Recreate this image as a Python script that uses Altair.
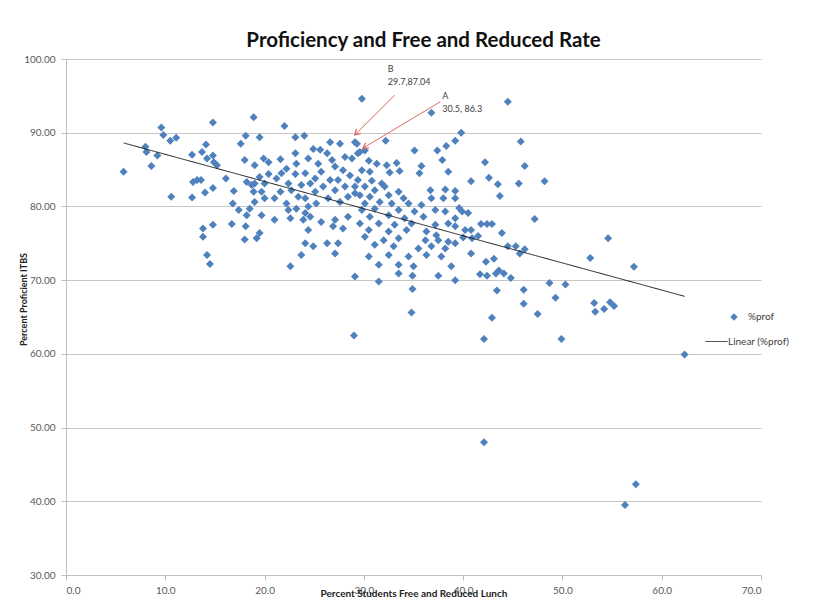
import altair as alt
import pandas as pd

# ---- data ----
x_frl = [
    5.8, 8.0, 8.1, 8.6, 9.2, 9.6, 9.8, 10.5, 11.1, 10.6, 12.7, 12.7, 12.8, 13.2, 13.6, 14.0,
    14.1, 13.7, 14.2, 14.8, 14.8, 14.9, 15.2, 14.8, 16.1, 16.9, 16.8, 17.4, 18.2, 18.0, 17.6,
    18.1, 18.9, 19.0, 18.7, 18.9, 18.5, 18.2, 16.7, 18.1, 14.8, 13.8, 13.8, 18.0, 19.2, 14.2, 14.5,
    22.0, 19.5, 23.1, 24.0, 29.1, 21.6, 19.9, 20.4, 23.1, 24.9, 25.6, 26.6, 27.6, 26.3, 26.8,
    23.2, 24.4, 25.4, 28.1, 28.8, 29.4, 27.1, 27.9, 25.7, 24.1, 22.2, 21.7, 20.4, 19.5, 21.2,
    23.1, 25.1, 26.6, 27.4, 28.6, 29.4, 19.0, 20.0, 22.4, 23.7, 24.6, 25.9, 28.1, 29.1, 19.7,
    21.6, 22.7, 25.1, 27.1, 20.0, 21.0, 23.4, 24.1, 26.4, 28.4, 29.6, 19.0, 22.2, 25.2, 27.6,
    22.4, 23.2, 24.1, 24.4, 19.7, 21.0, 22.6, 23.9, 24.6, 25.7, 27.1, 28.4, 26.9, 27.9, 24.4,
    19.5, 24.1, 27.4, 27.1, 23.7, 22.6, 29.1, 24.9, 26.3, 29.8,
    36.8, 39.8, 32.2, 29.3, 29.6, 30.1, 35.1, 37.4, 38.3, 39.2, 37.9, 30.5, 31.3, 32.3, 33.3,
    35.8, 29.8, 30.6, 32.6, 33.6, 35.6, 38.5, 30.8, 31.8, 30.1, 31.1, 32.1, 33.5, 36.7, 38.2,
    39.2, 29.1, 30.6, 32.5, 34.0, 36.8, 38.0, 30.1, 31.6, 32.8, 34.5, 35.8, 29.8, 31.1, 33.5,
    35.1, 37.2, 38.2, 30.6, 32.5, 34.1, 36.0, 39.2, 29.6, 31.5, 33.1, 34.8, 37.2, 38.5, 30.5,
    32.5, 34.3, 36.3, 37.3, 30.1, 32.0, 33.5, 36.2, 37.5, 38.5, 31.1, 33.0, 35.5, 36.8, 38.2,
    30.5, 32.5, 34.5, 36.3, 37.8, 31.5, 33.5, 35.0, 38.8,
    31.5, 33.5, 34.9, 37.5, 34.9, 34.8, 29.0,
    44.5, 45.8, 42.2, 46.2, 40.8, 42.6, 43.5, 45.6, 48.2, 43.7, 39.2, 39.6, 39.9, 40.5, 47.2,
    39.2, 40.2, 40.8, 41.8, 42.4, 42.9, 43.9, 40.0, 40.9, 41.5, 39.2, 44.5, 45.3, 46.2, 45.7,
    40.8, 42.3, 43.1, 52.8, 54.6, 57.2, 41.7, 42.4, 43.3, 43.6, 44.1, 44.8, 39.2, 43.4, 46.1,
    48.7, 50.3, 49.3, 46.1, 42.9, 47.5, 53.2, 53.3, 54.2, 54.8, 55.2, 42.1, 49.9, 62.3, 42.1,
    57.4, 56.3,
]
y_prof = [
    84.7, 88.1, 87.4, 85.5, 86.9, 90.7, 89.7, 88.9, 89.3, 81.3, 87.0, 81.2, 83.3, 83.6, 83.6, 81.9,
    88.4, 87.4, 86.5, 86.9, 91.4, 86.0, 85.6, 82.5, 83.8, 82.1, 80.4, 79.5, 83.3, 86.3, 88.5,
    89.6, 92.1, 85.6, 82.9, 82.0, 79.7, 78.8, 77.6, 77.3, 77.5, 77.0, 75.9, 75.5, 75.7, 73.4, 72.2,
    90.9, 89.4, 89.4, 89.6, 88.7, 86.4, 86.5, 86.0, 87.2, 87.8, 87.7, 88.7, 88.5, 87.2, 86.3,
    85.8, 86.5, 85.8, 86.7, 86.5, 87.2, 85.4, 84.9, 84.7, 84.5, 85.1, 84.5, 84.4, 84.0, 83.8,
    84.4, 83.8, 83.6, 83.6, 84.2, 83.6, 83.1, 83.1, 83.1, 82.9, 83.1, 82.7, 82.7, 82.7, 82.0,
    82.0, 82.2, 82.0, 82.2, 81.1, 81.1, 81.3, 81.1, 81.1, 81.3, 81.5, 80.6, 80.4, 80.4, 80.6,
    79.5, 79.7, 79.1, 80.0, 78.8, 78.2, 78.4, 78.2, 78.6, 77.9, 78.2, 78.6, 77.3, 77.0, 76.8,
    76.4, 75.0, 75.0, 73.6, 73.4, 71.9, 70.5, 74.6, 75.0, 94.6,
    92.7, 90.0, 88.9, 88.5, 87.4, 87.6, 87.6, 87.6, 88.2, 88.9, 86.3, 86.2, 85.8, 85.6, 85.9,
    85.5, 84.9, 84.7, 84.6, 84.8, 84.5, 84.7, 83.5, 83.1, 82.7, 82.2, 82.7, 82.0, 82.2, 82.3,
    82.1, 81.8, 81.3, 81.5, 81.1, 81.1, 81.1, 80.4, 80.6, 80.4, 80.4, 80.2, 79.5, 79.7, 79.5,
    79.3, 79.5, 79.3, 78.6, 78.8, 78.4, 78.6, 78.4, 77.7, 77.7, 77.5, 77.7, 77.5, 77.7, 76.8,
    76.6, 76.8, 76.6, 76.1, 75.9, 75.4, 75.7, 75.4, 75.4, 75.2, 74.8, 74.6, 74.3, 74.6, 74.3,
    73.2, 73.4, 73.2, 73.4, 73.2, 72.1, 72.1, 71.9, 71.9,
    69.8, 70.9, 70.6, 70.6, 68.8, 65.6, 62.5,
    94.2, 88.8, 86.0, 85.5, 83.4, 83.9, 83.0, 83.1, 83.4, 81.4, 81.1, 79.8, 79.3, 79.1, 78.3,
    77.3, 76.8, 76.8, 77.6, 77.6, 77.6, 76.4, 75.8, 75.7, 76.0, 75.0, 74.6, 74.6, 74.2, 73.6,
    73.6, 72.5, 72.9, 73.0, 75.7, 71.8, 70.8, 70.6, 70.9, 71.3, 70.9, 70.3, 70.0, 68.6, 68.7,
    69.6, 69.4, 67.6, 66.8, 64.9, 65.4, 66.9, 65.7, 66.1, 67.0, 66.5, 62.0, 62.0, 59.9, 48.0,
    42.3, 39.5,
]

chart_title = "Proficiency and Free and Reduced Rate"
x_title = "Percent Students Free and Reduced Lunch"
y_title = "Percent Proficient ITBS"
x_ticks = [0, 10, 20, 30, 40, 50, 60, 70]
y_ticks = [30, 40, 50, 60, 70, 80, 90, 100]
series_points = "%prof"
series_trend = "Linear (%prof)"

note_text = ["B", "29.7,87.04", "A", "30.5, 86.3"]
note_x = [32.4, 32.4, 37.9, 37.9]
note_y = [98.3, 96.5, 94.6, 92.8]

arrowB_x = [33.1, 29.1]
arrowB_y = [95.1, 89.7]
arrowA_x = [37.7, 29.9]
arrowA_y = [94.2, 87.9]

# ---- tables ----
df = pd.DataFrame({"frl": x_frl, "prof": y_prof})
notes = pd.DataFrame({"t": note_text, "x": note_x, "y": note_y})
arrows = pd.DataFrame({
    "x": [arrowB_x[0], arrowA_x[0]], "y": [arrowB_y[0], arrowA_y[0]],
    "x2": [arrowB_x[1], arrowA_x[1]], "y2": [arrowB_y[1], arrowA_y[1]],
})
headB = pd.DataFrame({"x": [arrowB_x[1]], "y": [arrowB_y[1]]})
headA = pd.DataFrame({"x": [arrowA_x[1]], "y": [arrowA_y[1]]})

FONT = "Lato"
LBL = "#595959"

xscale = alt.Scale(domain=[0, 70], nice=False, zero=False)
yscale = alt.Scale(domain=[30, 100], nice=False, zero=False)

x_enc = alt.X(
    "frl:Q", scale=xscale,
    axis=alt.Axis(
        values=x_ticks, format=".1f", title=x_title, grid=False,
        domainColor="#bfbfbf", tickColor="#bfbfbf", tickSize=5, labelPadding=5,
        labelFont=FONT, labelFontSize=10, labelColor=LBL,
        titleFont=FONT, titleFontSize=10, titleFontWeight="bold", titleColor="#222",
        titleY=21, titleBaseline="alphabetic",
    ),
)
y_enc = alt.Y(
    "prof:Q", scale=yscale,
    axis=alt.Axis(
        values=y_ticks, format=".2f", title=y_title, grid=True,
        gridColor="#c6c6c6", gridWidth=1.2,
        domainColor="#bfbfbf", tickColor="#bfbfbf", tickSize=5, labelPadding=6,
        labelFont=FONT, labelFontSize=10, labelColor=LBL,
        titleFont=FONT, titleFontSize=9, titleFontWeight="bold", titleColor="#222",
        titleX=-40, titleY=240, titleAngle=-90, titleBaseline="alphabetic",
    ),
)

points = (
    alt.Chart(df)
    .transform_calculate(series=f"'{series_points}'")
    .mark_point(filled=True, size=64, color="#4F81BD", opacity=1, strokeWidth=0)
    .encode(
        x=x_enc, y=y_enc,
        shape=alt.Shape(
            "series:N", scale=alt.Scale(range=["diamond"]),
            legend=alt.Legend(
                orient="none", legendX=663, legendY=253, title=None, padding=0,
                symbolSize=56, symbolFillColor="#4F81BD", symbolStrokeWidth=0,
                labelOffset=9, labelFont=FONT, labelFontSize=10, labelColor="#404040",
            ),
        ),
    )
)

trend = (
    alt.Chart(df)
    .transform_regression("frl", "prof")
    .transform_calculate(series=f"'{series_trend}'")
    .mark_line(color="#1a1a1a", strokeWidth=1)
    .encode(
        x=alt.X("frl:Q", scale=xscale),
        y=alt.Y("prof:Q", scale=yscale),
        strokeDash=alt.StrokeDash(
            "series:N", scale=alt.Scale(range=[[1, 0]]),
            legend=alt.Legend(
                orient="none", legendX=639, legendY=271, title=None, padding=0,
                symbolType="stroke", symbolSize=484, symbolStrokeColor="#1a1a1a",
                symbolStrokeWidth=1, labelOffset=0,
                labelFont=FONT, labelFontSize=10, labelColor="#404040",
            ),
        ),
    )
)

arrow_lines = (
    alt.Chart(arrows)
    .mark_rule(color="#e06a62", strokeWidth=1)
    .encode(x=alt.X("x:Q", scale=xscale), y=alt.Y("y:Q", scale=yscale), x2="x2:Q", y2="y2:Q")
)
chevron = "M-0.6,1L0,0L0.6,1"
head_b = (
    alt.Chart(headB)
    .mark_point(shape=chevron, size=110, angle=225, filled=False, color="#e06a62", strokeWidth=1.3, opacity=1)
    .encode(x=alt.X("x:Q", scale=xscale), y=alt.Y("y:Q", scale=yscale))
)
head_a = (
    alt.Chart(headA)
    .mark_point(shape=chevron, size=110, angle=239, filled=False, color="#e06a62", strokeWidth=1.3, opacity=1)
    .encode(x=alt.X("x:Q", scale=xscale), y=alt.Y("y:Q", scale=yscale))
)
note_marks = (
    alt.Chart(notes)
    .mark_text(align="left", baseline="alphabetic", font=FONT, fontSize=9, color="#404040")
    .encode(x=alt.X("x:Q", scale=xscale), y=alt.Y("y:Q", scale=yscale), text="t:N")
)

chart = (
    alt.layer(points, trend, arrow_lines, head_b, head_a, note_marks)
    .properties(
        width=695, height=516,
        autosize=alt.AutoSizeParams(type="none"),
        padding={"left": 58, "top": 51, "right": 52, "bottom": 22},
        title=alt.Title(chart_title, font=FONT, fontSize=20.5, fontWeight="bold",
                        color="#111", offset=3, dx=10),
        background="white",
    )
    .configure_view(stroke=None)
)

chart.save("out.html", embed_options={"renderer": "svg", "actions": False})
